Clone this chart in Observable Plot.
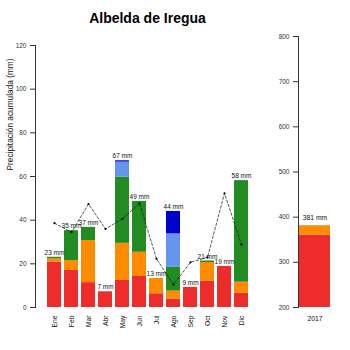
<!DOCTYPE html>
<html>
<head>
<meta charset="utf-8">
<script src="https://cdn.jsdelivr.net/npm/d3@7"></script>
<script src="https://cdn.jsdelivr.net/npm/@observablehq/plot@0.6"></script>
<style>
  body { margin: 0; background: #fff; }
  #wrap { position: relative; width: 350px; height: 350px; overflow: hidden; background: #fff; font-family: "Liberation Sans", Arial, sans-serif; }
  #wrap svg { position: absolute; left: 0; top: 0; }
  #title { position: absolute; left: 0; top: 10px; width: 295px; text-align: center; font-size: 14px; font-weight: bold; color: #000; line-height: 16px; }
</style>
</head>
<body>
<div id="wrap"><div id="title">Albelda de Iregua</div></div>
<script>
// ---- data ----
const months = ["Ene","Feb","Mar","Abr","May","Jun","Jul","Ago","Sep","Oct","Nov","Dic"];
const rojo       = [20.7, 17.0, 11.4, 7.2, 12.4, 14.2, 6.3, 3.8, 9.2, 12.0, 18.8, 6.5];
const naranja    = [1.6, 4.5, 19.3, 0, 17.0, 11.1, 7.0, 3.7, 0, 8.6, 0, 5.1];
const verde      = [0.7, 13.7, 6.0, 0, 30.3, 23.3, 0, 10.9, 0, 0.7, 0, 46.5];
const azulClaro  = [0, 0, 0, 0, 6.9, 0, 0, 15.3, 0, 0, 0, 0];
const azulOscuro = [0, 0, 0, 0, 0.6, 0, 0, 10.3, 0, 0, 0, 0];
const media      = [38.6, 34.5, 47.4, 36.0, 40.6, 47.7, 22.3, 10.5, 20.7, 23.0, 52.3, 28.8];
const yearLabel = ["2017"];
const yearRojo = [360];
const yearNaranja = [21];
const yearTotalLabel = [381];
const yTicksLeft = [0, 20, 40, 60, 80, 100, 120];
const yTicksRight = [200, 300, 400, 500, 600, 700, 800];

const cats = ["rojo","naranja","verde","azulClaro","azulOscuro"];
const catColors = ["#EE2C2C","#FF8C00","#228B22","#6495ED","#0000CD"];
const series = {rojo, naranja, verde, azulClaro, azulOscuro};

const stacked = [];
months.forEach((m, i) => cats.forEach(c => stacked.push({month: m, cat: c, value: series[c][i]})));
const totals = months.map((m, i) => ({month: m, total: cats.reduce((s, c) => s + series[c][i], 0)}));
const meanData = months.map((m, i) => ({month: m, v: media[i]}));

const font = "Liberation Sans, Arial, sans-serif";

const left = Plot.plot({
  width: 350, height: 350,
  marginLeft: 35, marginRight: 90, marginTop: 45, marginBottom: 43,
  style: {background: "transparent", fontFamily: font, color: "#000", overflow: "visible"},
  x: {domain: months, paddingInner: 0.2, paddingOuter: 0.445, axis: null},
  y: {domain: [0, 120], axis: null},
  color: {domain: cats, range: catColors},
  marks: [
    Plot.barY(stacked, Plot.stackY({x: "month", y: "value", fill: "cat", order: cats})),
    Plot.line(meanData, {x: "month", y: "v", stroke: "#111", strokeWidth: 0.7, strokeDasharray: "2.5,2"}),
    Plot.dot(meanData, {x: "month", y: "v", r: 1.1, fill: "#000", stroke: null}),
    Plot.text(totals, {x: "month", y: "total", text: d => Math.round(d.total) + " mm", dy: -4.5, fontSize: 6.5, fill: "#111"}),
    Plot.axisY({ticks: yTicksLeft, tickSize: 5, tickPadding: 4, fontSize: 6.5, stroke: "#333", color: "#333", label: null}),
    Plot.axisX({tickSize: 0, tickRotate: -90, tickPadding: 8, fontSize: 6.8, color: "#111", label: null}),
    Plot.frame({anchor: "left", stroke: "#333"}),
    Plot.text(["Precipitación acumulada (mm)"], {frameAnchor: "left", rotate: -90, dx: -25, dy: -6, fontSize: 8.3, fill: "#111"})
  ]
});

const yearStack = [];
yearLabel.forEach((y, i) => {
  yearStack.push({year: y, cat: "rojo", value: yearRojo[i]});
  yearStack.push({year: y, cat: "naranja", value: yearNaranja[i]});
});
const yearTotals = yearLabel.map((y, i) => ({year: y, total: yearTotalLabel[i]}));

const right = Plot.plot({
  width: 350, height: 350,
  marginLeft: 298, marginRight: 19, marginTop: 36, marginBottom: 43,
  style: {background: "transparent", fontFamily: font, color: "#000", overflow: "visible"},
  x: {domain: yearLabel, padding: 0.03, axis: null},
  y: {domain: [200, 800], axis: null},
  color: {domain: cats, range: catColors},
  marks: [
    Plot.barY(yearStack, Plot.stackY({x: "year", y: "value", fill: "cat", clip: true})),
    Plot.text(yearTotals, {x: "year", y: "total", text: d => d.total + " mm", dy: -8, fontSize: 6.8, fill: "#111"}),
    Plot.axisY({ticks: yTicksRight, tickSize: 5, tickPadding: 4, fontSize: 6.5, stroke: "#333", color: "#333", label: null}),
    Plot.axisX({tickSize: 0, tickPadding: 9, fontSize: 6.8, color: "#111", label: null}),
    Plot.frame({anchor: "left", stroke: "#333"})
  ]
});

const wrap = document.getElementById("wrap");
wrap.appendChild(left);
wrap.appendChild(right);
</script>
</body>
</html>
